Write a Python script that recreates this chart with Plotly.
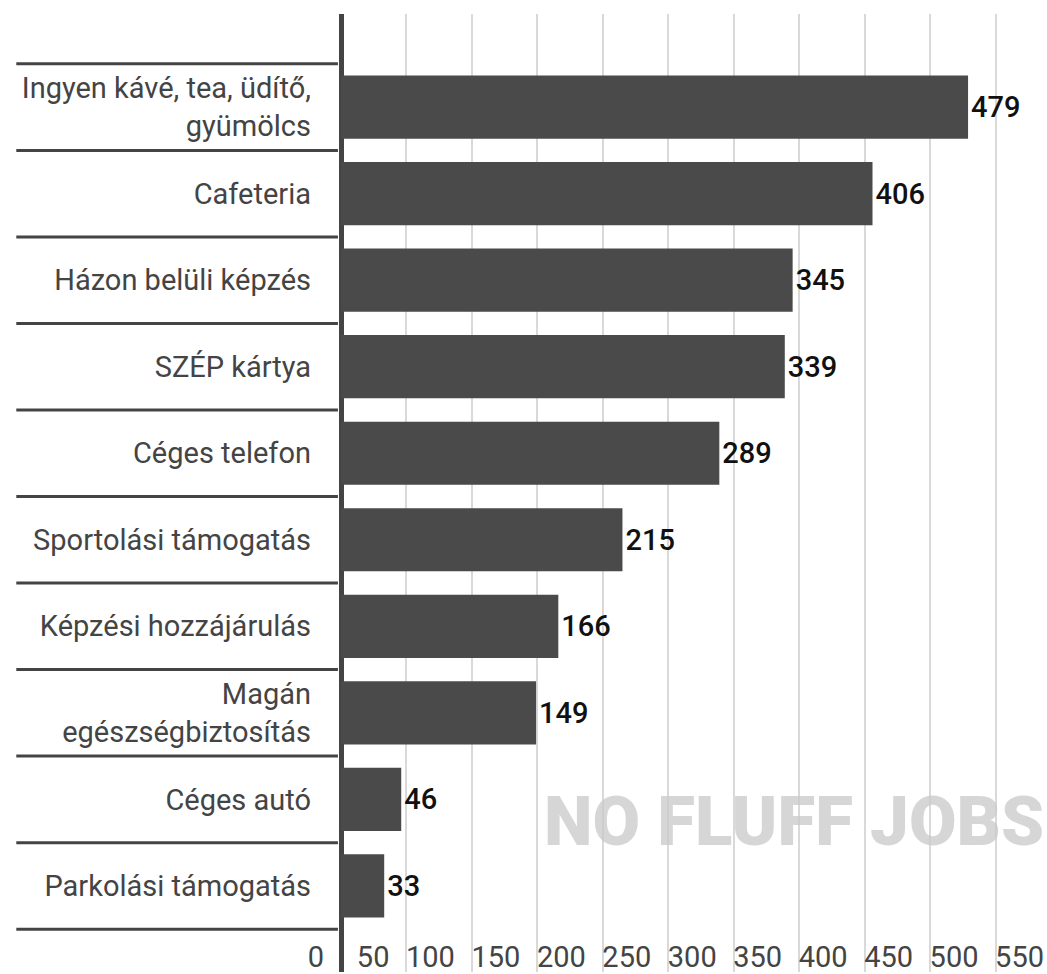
import plotly.graph_objects as go

categories = [
    "Ingyen kávé, tea, üdítő,<br>gyümölcs",
    "Cafeteria",
    "Házon belüli képzés",
    "SZÉP kártya",
    "Céges telefon",
    "Sportolási támogatás",
    "Képzési hozzájárulás",
    "Magán<br>egészségbiztosítás",
    "Céges autó",
    "Parkolási támogatás",
]
values = [479, 406, 345, 339, 289, 215, 166, 149, 46, 33]
tick_values = [0, 50, 100, 150, 200, 250, 300, 350, 400, 450, 500, 550]
tick_labels = [str(v) for v in tick_values]

DARK = "#4a4a4a"
LABEL_SHIFT = 13  # tick labels sit just left of their gridline

fig = go.Figure(
    go.Bar(
        x=values,
        y=categories,
        orientation="h",
        marker=dict(color=DARK, line=dict(width=0)),
        width=0.73,
        text=[str(v) for v in values],
        textposition="outside",
        textfont=dict(family="Roboto", size=29, color="#111111", weight=500),
        cliponaxis=False,
        hoverinfo="skip",
    )
)

# separator lines between categories on the label side
for i in range(len(categories) + 1):
    fig.add_shape(
        type="line", xref="paper", yref="y",
        x0=-0.41, x1=0.03, y0=i - 0.5, y1=i - 0.5,
        line=dict(color="#444444", width=3), layer="above",
    )

fig.add_annotation(
    text="NO FLUFF JOBS", xref="paper", yref="paper",
    x=0.998, y=0.157, xanchor="right", yanchor="middle",
    showarrow=False,
    font=dict(family="Roboto", size=69, color="rgba(200,200,200,0.75)", weight=900),
)

fig.update_layout(
    width=1047, height=974,
    margin=dict(l=316, r=0, t=14, b=0, pad=0),
    paper_bgcolor="white", plot_bgcolor="white",
    showlegend=False,
    bargap=0.27,
    xaxis=dict(
        range=[-19.1, 539.3],
        tickmode="array",
        tickvals=[v - LABEL_SHIFT for v in tick_values],
        ticktext=tick_labels,
        ticklabelposition="inside left",
        ticklabeloverflow="allow",
        ticklabelstandoff=-7,
        showgrid=False,
        ticks="",
        tickfont=dict(family="Roboto", size=29, color="#444444"),
        zeroline=True, zerolinecolor="#444444", zerolinewidth=5,
        showline=False,
        minor=dict(tickmode="array", tickvals=tick_values, showgrid=True,
                   gridcolor="#d9d9d9", gridwidth=2, ticks=""),
    ),
    yaxis=dict(
        range=[9.995, -1.076],
        showgrid=False, zeroline=False, showline=False, ticks="",
        ticklabelstandoff=4,
        tickfont=dict(family="Roboto", size=29, color="#444444"),
    ),
)

fig.write_html(
    "out.html",
    config={"displayModeBar": False},
    post_script="document.body.style.margin='0';",
)
